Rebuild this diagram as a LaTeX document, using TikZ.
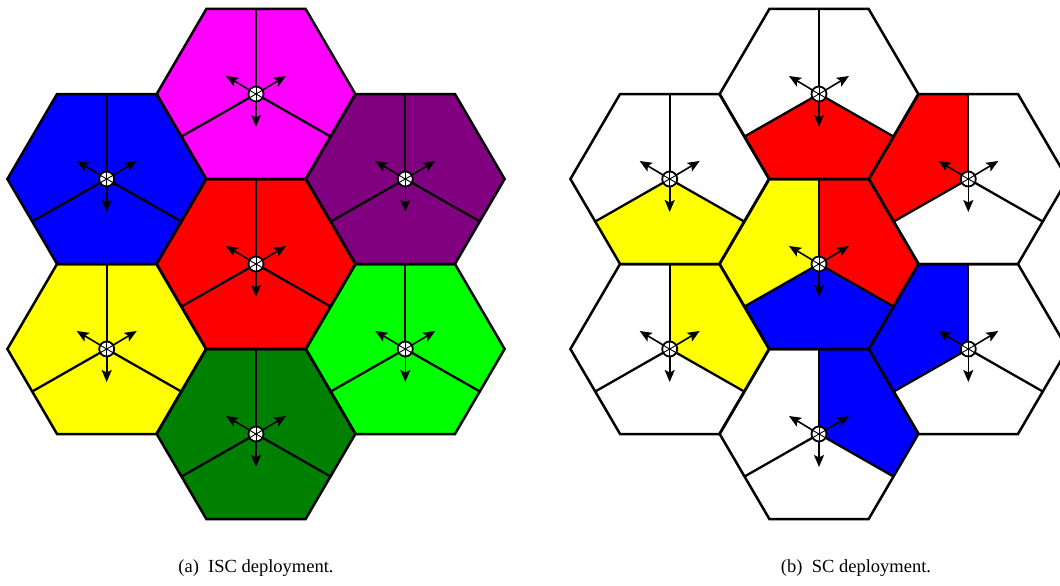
\documentclass[tikz,border=0pt]{standalone}
\usepackage{fontspec}
\setmainfont{Liberation Serif}
\usetikzlibrary{arrows.meta,calc}
\definecolor{purp}{RGB}{128,0,128}
\definecolor{dgreen}{RGB}{0,128,0}
\definecolor{lgreen}{RGB}{0,255,0}
\definecolor{magen}{RGB}{255,0,255}
\definecolor{pblue}{RGB}{0,0,255}
\definecolor{pred}{RGB}{255,0,0}
\definecolor{pyellow}{RGB}{255,255,0}

% cell geometry: R = 99.3 (half 49.65, 3/4 74.475), apothem 85
\newcommand{\defcell}[3]{%
  \coordinate (#1) at (#2,#3);
  \coordinate (#1-tl) at (#2-49.65,#3-85);
  \coordinate (#1-tr) at (#2+49.65,#3-85);
  \coordinate (#1-r)  at (#2+99.3,#3);
  \coordinate (#1-br) at (#2+49.65,#3+85);
  \coordinate (#1-bl) at (#2-49.65,#3+85);
  \coordinate (#1-l)  at (#2-99.3,#3);
  \coordinate (#1-mt) at (#2,#3-85);
  \coordinate (#1-ml) at (#2-74.475,#3+42.5);
  \coordinate (#1-mr) at (#2+74.475,#3+42.5);
  \coordinate (#1-a1) at (#2+30,#3-18);
  \coordinate (#1-a2) at (#2-30,#3-18);
  \coordinate (#1-a3) at (#2,#3+33);
}
\newcommand{\hexfill}[2]{\fill[#2] (#1-tl) -- (#1-tr) -- (#1-r) -- (#1-br) -- (#1-bl) -- (#1-l) -- cycle;}
\newcommand{\hexline}[1]{\draw[hexborder] (#1-tl) -- (#1-tr) -- (#1-r) -- (#1-br) -- (#1-bl) -- (#1-l) -- cycle;}
\newcommand{\secUL}[2]{\fill[#2] (#1) -- (#1-mt) -- (#1-tl) -- (#1-l) -- (#1-ml) -- cycle;}
\newcommand{\secB}[2]{\fill[#2] (#1) -- (#1-ml) -- (#1-bl) -- (#1-br) -- (#1-mr) -- cycle;}
\newcommand{\secUR}[2]{\fill[#2] (#1) -- (#1-mr) -- (#1-r) -- (#1-tr) -- (#1-mt) -- cycle;}
\newcommand{\antenna}[1]{%
  \draw[sectorline] (#1) -- (#1-mt);
  \draw[sectorline] (#1) -- (#1-ml);
  \draw[sectorline] (#1) -- (#1-mr);
  \draw[beam] (#1) -- (#1-a1);
  \draw[beam] (#1) -- (#1-a2);
  \draw[beam] (#1) -- (#1-a3);
  \fill[white] (#1) circle (7.5pt);
  \draw[innerline,shift={(#1)}] (-6.5,3.75) -- (6.5,-3.75);
  \draw[innerline,shift={(#1)}] (-6.5,-3.75) -- (6.5,3.75);
  \draw[innerline,shift={(#1)}] (0,-7.5) -- (0,7.5);
  \draw[circline] (#1) circle (7.5pt);
}

\begin{document}
\begin{tikzpicture}[x=1pt,y=-1pt,
  hexborder/.style={line width=2.5pt,line join=miter},
  sectorline/.style={line width=2.3pt},
  beam/.style={line width=1.6pt,-{Stealth[length=12pt,width=10pt,inset=2.5pt]}},
  innerline/.style={line width=0.9pt},
  circline/.style={line width=1.8pt},
  caption/.style={font=\fontsize{18.5}{21}\selectfont, inner sep=0pt}]
\useasboundingbox (0,0) rectangle (1060,586);

% ---------- (a) ISC ----------
\defcell{aC}{256}{264}
\defcell{aN}{256}{94}
\defcell{aNW}{106.7}{179}
\defcell{aNE}{405.3}{179}
\defcell{aSW}{106.7}{349}
\defcell{aSE}{405.3}{349}
\defcell{aS}{256}{434}

\hexfill{aC}{pred}
\hexfill{aN}{magen}
\hexfill{aNW}{pblue}
\hexfill{aNE}{purp}
\hexfill{aSW}{pyellow}
\hexfill{aSE}{lgreen}
\hexfill{aS}{dgreen}
\foreach \c in {aC,aN,aNW,aNE,aSW,aSE,aS} {\hexline{\c}}
\foreach \c in {aC,aN,aNW,aNE,aSW,aSE,aS} {\antenna{\c}}

% ---------- (b) SC ----------
\defcell{bC}{819}{264}
\defcell{bN}{819}{94}
\defcell{bNW}{669.7}{179}
\defcell{bNE}{968.3}{179}
\defcell{bSW}{669.7}{349}
\defcell{bSE}{968.3}{349}
\defcell{bS}{819}{434}

\foreach \c in {bC,bN,bNW,bNE,bSW,bSE,bS} {\hexfill{\c}{white}}
\secUL{bC}{pyellow}
\secUR{bC}{pred}
\secB{bC}{pblue}
\secB{bN}{pred}
\secUL{bNE}{pred}
\secUL{bSE}{pblue}
\secUR{bS}{pblue}
\secUR{bSW}{pyellow}
\secB{bNW}{pyellow}
\foreach \c in {bC,bN,bNW,bNE,bSW,bSE,bS} {\hexline{\c}}
\foreach \c in {bC,bN,bNW,bNE,bSW,bSE,bS} {\antenna{\c}}

% ---------- captions ----------
\node[caption] (capa) at (256,568) {(a)\ \ ISC deployment.};
\node[caption] (capb) at (856,568) {(b)\ \ SC deployment.};
\end{tikzpicture}
\end{document}
